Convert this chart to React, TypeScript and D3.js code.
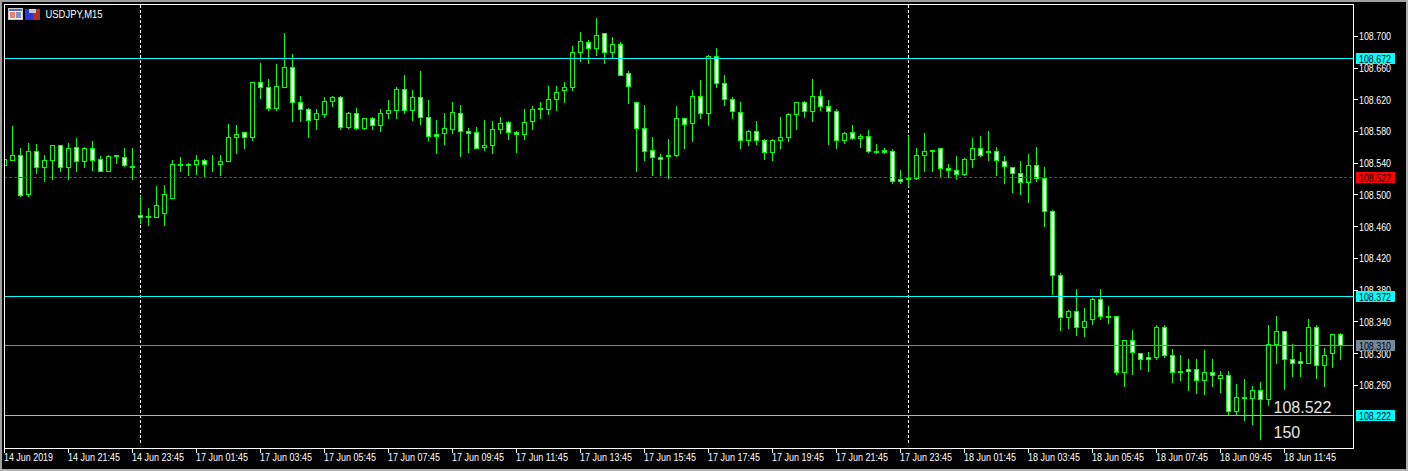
import React, { useEffect, useRef } from 'react';
import * as d3 from 'd3';

// all candle values are points above 108.000 (1 point = 0.001)
const basePrice = 108;
const highs = [
  545, 586, 559, 565, 564, 550, 562, 562, 565, 571, 560, 568, 548, 550, 550, 559, 559, 498, 483, 511, 512,
  543, 547, 540, 550, 545, 550, 550, 589, 588, 579, 642, 666, 646, 665, 704, 677, 624, 609, 608, 623, 624,
  624, 604, 609, 596, 598, 608, 619, 636, 650, 632, 655, 619, 594, 603, 617, 613, 584, 585, 594, 593, 598,
  593, 580, 608, 612, 617, 637, 637, 642, 687, 705, 695, 723, 704, 699, 692, 656, 617, 613, 573, 551, 570,
  612, 596, 632, 644, 676, 685, 651, 623, 617, 581, 593, 570, 570, 598, 603, 617, 618, 646, 632, 619, 608,
  579, 588, 576, 581, 564, 559, 557, 531, 574, 559, 577, 556, 559, 538, 548, 546, 571, 574, 580, 560, 548,
  535, 542, 551, 560, 535, 480, 401, 354, 381, 357, 369, 381, 359, 347, 317, 329, 300, 301, 335, 336, 305,
  298, 293, 292, 304, 293, 278, 278, 261, 268, 258, 263, 336, 347, 328, 311, 302, 343, 336, 307, 324, 325,
];
const lows = [
  537, 544, 498, 498, 527, 517, 520, 530, 520, 529, 534, 531, 529, 530, 540, 536, 520, 464, 462, 472, 462,
  496, 530, 525, 526, 522, 530, 524, 542, 552, 558, 569, 622, 606, 607, 635, 592, 592, 573, 583, 598, 611,
  582, 584, 583, 583, 583, 580, 596, 597, 603, 594, 589, 569, 552, 563, 578, 548, 554, 558, 556, 552, 577,
  570, 554, 570, 582, 596, 602, 607, 616, 632, 668, 666, 676, 666, 672, 651, 615, 529, 544, 524, 524, 521,
  549, 559, 567, 596, 587, 635, 613, 596, 559, 562, 563, 545, 544, 558, 568, 583, 598, 592, 606, 563, 559,
  565, 570, 560, 553, 552, 552, 514, 514, 511, 520, 529, 530, 522, 522, 519, 524, 535, 549, 543, 525, 515,
  503, 501, 490, 517, 460, 375, 329, 332, 323, 322, 337, 343, 338, 274, 258, 274, 280, 277, 293, 295, 264,
  266, 253, 250, 249, 258, 251, 222, 222, 216, 211, 192, 235, 287, 255, 271, 271, 288, 269, 258, 282, 293,
];
const opens = [
  537, 544, 550, 500, 555, 534, 543, 562, 534, 560, 542, 559, 545, 530, 550, 547, 536, 474, 473, 472, 477,
  496, 538, 538, 538, 543, 539, 538, 542, 573, 579, 573, 642, 636, 609, 636, 661, 617, 608, 595, 602, 618,
  623, 585, 603, 584, 596, 588, 603, 607, 633, 607, 623, 598, 576, 577, 583, 603, 580, 579, 560, 562, 583,
  591, 579, 576, 593, 609, 608, 620, 632, 636, 680, 692, 685, 704, 680, 690, 653, 617, 584, 556, 547, 550,
  550, 596, 590, 624, 603, 675, 641, 620, 604, 569, 580, 569, 554, 569, 573, 602, 617, 605, 624, 612, 605,
  569, 579, 571, 574, 555, 556, 555, 519, 521, 521, 550, 556, 559, 533, 531, 526, 545, 559, 555, 555, 542,
  535, 527, 516, 537, 521, 479, 399, 345, 353, 333, 343, 368, 347, 347, 276, 316, 300, 295, 295, 333, 298,
  278, 280, 280, 266, 276, 269, 273, 227, 245, 243, 254, 242, 312, 328, 292, 290, 288, 333, 285, 300, 324,
];
const closes = [
  545, 550, 499, 555, 534, 543, 562, 534, 559, 542, 559, 544, 530, 548, 548, 537, 534, 472, 471, 487, 501,
  538, 537, 537, 543, 538, 538, 542, 573, 576, 573, 642, 636, 609, 637, 661, 617, 608, 594, 603, 618, 623,
  585, 603, 584, 596, 588, 603, 607, 633, 607, 623, 598, 574, 574, 584, 604, 580, 578, 559, 562, 583, 590,
  579, 576, 591, 608, 608, 620, 629, 636, 680, 694, 685, 701, 680, 690, 651, 637, 584, 555, 547, 545, 548,
  596, 589, 624, 603, 675, 641, 620, 605, 569, 580, 569, 554, 569, 573, 602, 617, 605, 624, 612, 605, 569,
  577, 571, 574, 555, 554, 554, 517, 517, 519, 550, 555, 555, 533, 531, 526, 545, 559, 550, 554, 543, 536,
  527, 516, 537, 521, 479, 399, 345, 353, 333, 341, 368, 347, 345, 276, 316, 301, 293, 293, 333, 298, 276,
  276, 278, 266, 276, 272, 273, 227, 245, 243, 254, 242, 312, 328, 292, 288, 288, 333, 285, 298, 324, 310,
];

const priceTicks = [108.7, 108.66, 108.62, 108.58, 108.54, 108.5, 108.46, 108.42, 108.38, 108.34, 108.3, 108.26];
const timeLabels = [
  '14 Jun 2019', '14 Jun 21:45', '14 Jun 23:45', '17 Jun 01:45', '17 Jun 03:45', '17 Jun 05:45', '17 Jun 07:45',
  '17 Jun 09:45', '17 Jun 11:45', '17 Jun 13:45', '17 Jun 15:45', '17 Jun 17:45', '17 Jun 19:45', '17 Jun 21:45',
  '17 Jun 23:45', '18 Jun 01:45', '18 Jun 03:45', '18 Jun 05:45', '18 Jun 07:45', '18 Jun 09:45', '18 Jun 11:45',
];
const labelEvery = 8;
const separators = [17, 113];
const levelLines = [108.672, 108.372, 108.222];
const askLine = 108.522;
const bidLine = 108.31;

const W = 1408;
const H = 471;
const M = { top: 4, right: 1353, bottom: 448, left: 4 };
const GREEN = '#00ff00';
const CYAN = '#00ffff';
const AXIS_FONT = '"Liberation Sans", Arial, sans-serif';

export default function App() {
  const svgRef = useRef<SVGSVGElement | null>(null);

  useEffect(() => {
    if (!svgRef.current) return;
    const svg = d3.select(svgRef.current);
    svg.selectAll('*').remove();

    const x = d3.scaleLinear().domain([0, highs.length - 1]).range([4.5, 1340.5]);
    const y = d3.scaleLinear().domain([108.222, 108.672]).range([415.5, 58.5]);
    const py = (pts: number) => Math.round(y(basePrice + pts / 1000) - 0.5) + 0.5;

    svg.append('rect').attr('width', W).attr('height', H).attr('fill', '#000');
    // window frame
    svg.append('rect').attr('x', 0).attr('y', 0).attr('width', W).attr('height', 2).attr('fill', '#a0a0a0');
    svg.append('rect').attr('x', 0).attr('y', 0).attr('width', 2).attr('height', H).attr('fill', '#a0a0a0');
    svg.append('rect').attr('x', W - 2).attr('y', 0).attr('width', 2).attr('height', H).attr('fill', '#b0b0b0');
    svg.append('rect').attr('x', 0).attr('y', H - 2).attr('width', W).attr('height', 2).attr('fill', '#b0b0b0');

    const defs = svg.append('defs');
    defs.append('clipPath').attr('id', 'plot-clip').append('rect')
      .attr('x', M.left + 1).attr('y', M.top + 1)
      .attr('width', M.right - M.left - 1).attr('height', M.bottom - M.top - 1);

    const plot = svg.append('g').attr('clip-path', 'url(#plot-clip)').attr('shape-rendering', 'crispEdges');

    // period separators
    plot.selectAll('line.sep')
      .data(separators)
      .enter()
      .append('line')
      .attr('x1', d => x(d))
      .attr('x2', d => x(d))
      .attr('y1', M.top + 1)
      .attr('y2', M.bottom - 3)
      .attr('stroke', '#fff')
      .attr('stroke-dasharray', '3 2');

    // candles
    const candles = plot.selectAll('g.candle')
      .data(d3.range(highs.length))
      .enter()
      .append('g');
    candles.append('line')
      .attr('x1', i => x(i))
      .attr('x2', i => x(i))
      .attr('y1', i => py(highs[i]) - 0.5)
      .attr('y2', i => py(lows[i]) + 0.5)
      .attr('stroke', GREEN);
    candles.append('rect')
      .attr('x', i => x(i) - 2)
      .attr('width', 4)
      .attr('y', i => py(Math.max(opens[i], closes[i])))
      .attr('height', i => py(Math.min(opens[i], closes[i])) - py(Math.max(opens[i], closes[i])))
      .attr('fill', i => (closes[i] < opens[i] ? '#fff' : '#000'))
      .attr('stroke', GREEN);

    // level lines go over the candles
    plot.selectAll('line.level')
      .data(levelLines)
      .enter()
      .append('line')
      .attr('x1', M.left)
      .attr('x2', M.right)
      .attr('y1', d => y(d))
      .attr('y2', d => y(d))
      .attr('stroke', CYAN);
    plot.append('line')
      .attr('x1', M.left).attr('x2', M.right)
      .attr('y1', y(bidLine)).attr('y2', y(bidLine))
      .attr('stroke', '#778899');
    plot.append('line')
      .attr('x1', M.left).attr('x2', M.right)
      .attr('y1', y(askLine)).attr('y2', y(askLine))
      .attr('stroke', '#ff0000')
      .attr('stroke-dasharray', '3 2');

    // chart border
    svg.append('path')
      .attr('d', `M${M.left + 0.5},${M.bottom + 0.5}V${M.top + 0.5}H${M.right + 0.5}V${M.bottom + 0.5}H${M.left + 0.5}`)
      .attr('fill', 'none')
      .attr('stroke', '#fff')
      .attr('shape-rendering', 'crispEdges');

    // price axis
    const yAxis = svg.append('g');
    yAxis.selectAll('line')
      .data(priceTicks)
      .enter()
      .append('line')
      .attr('x1', M.right + 1)
      .attr('x2', M.right + 5)
      .attr('y1', d => Math.round(y(d) - 0.5) + 0.5)
      .attr('y2', d => Math.round(y(d) - 0.5) + 0.5)
      .attr('stroke', '#fff')
      .attr('shape-rendering', 'crispEdges');
    yAxis.selectAll('text')
      .data(priceTicks)
      .enter()
      .append('text')
      .attr('x', M.right + 6)
      .attr('y', d => y(d) + 4)
      .attr('fill', '#fff')
      .attr('font-family', AXIS_FONT)
      .attr('font-size', 10.5)
      .attr('textLength', 32)
      .attr('lengthAdjust', 'spacingAndGlyphs')
      .text(d => d.toFixed(3));

    // time axis
    const xAxis = svg.append('g');
    xAxis.selectAll('line')
      .data(timeLabels)
      .enter()
      .append('line')
      .attr('x1', (_, i) => x(i * labelEvery))
      .attr('x2', (_, i) => x(i * labelEvery))
      .attr('y1', M.bottom + 1)
      .attr('y2', M.bottom + 5)
      .attr('stroke', '#fff')
      .attr('shape-rendering', 'crispEdges');
    xAxis.selectAll('text')
      .data(timeLabels)
      .enter()
      .append('text')
      .attr('x', (_, i) => x(i * labelEvery) - 0.5)
      .attr('y', M.bottom + 13)
      .attr('fill', '#fff')
      .attr('font-family', AXIS_FONT)
      .attr('font-size', 10.5)
      .attr('textLength', d => (d.length === 11 ? 49 : 52))
      .attr('lengthAdjust', 'spacingAndGlyphs')
      .text(d => d);

    // price tags
    const tags = [
      ...levelLines.map(v => ({ v, fill: CYAN })),
      { v: askLine, fill: '#ff0000' },
      { v: bidLine, fill: '#778899' },
    ];
    const tag = svg.append('g').selectAll('g').data(tags).enter().append('g');
    tag.append('rect')
      .attr('x', M.right + 3)
      .attr('y', d => Math.round(y(d.v) - 0.5) - 5)
      .attr('width', 39)
      .attr('height', 11)
      .attr('fill', d => d.fill);
    tag.append('text')
      .attr('x', M.right + 6)
      .attr('y', d => y(d.v) + 4)
      .attr('fill', '#000')
      .attr('font-family', AXIS_FONT)
      .attr('font-size', 10.5)
      .attr('textLength', 32)
      .attr('lengthAdjust', 'spacingAndGlyphs')
      .text(d => d.v.toFixed(3));

    // title with the two little icons
    const icons = svg.append('g').attr('shape-rendering', 'crispEdges');
    icons.append('rect').attr('x', 8.5).attr('y', 8.5).attr('width', 14).attr('height', 11).attr('fill', '#f4f0f0').attr('stroke', '#c8c8d8');
    icons.append('rect').attr('x', 9).attr('y', 9).attr('width', 13).attr('height', 2).attr('fill', '#4f6fb0');
    icons.append('rect').attr('x', 10).attr('y', 12).attr('width', 5).attr('height', 6).attr('fill', '#f08070');
    icons.append('rect').attr('x', 16).attr('y', 12).attr('width', 5).attr('height', 6).attr('fill', '#8090d0');
    icons.append('rect').attr('x', 25).attr('y', 9).attr('width', 8).attr('height', 11).attr('fill', '#2a35d8');
    icons.append('rect').attr('x', 33).attr('y', 9).attr('width', 7).attr('height', 11).attr('fill', '#b03028');
    icons.append('rect').attr('x', 29).attr('y', 9).attr('width', 7).attr('height', 4).attr('fill', '#c8c8c8');

    svg.append('text')
      .attr('x', 45.5)
      .attr('y', 18)
      .attr('fill', '#fff')
      .attr('font-family', AXIS_FONT)
      .attr('font-size', 10.5)
      .attr('textLength', 57)
      .attr('lengthAdjust', 'spacingAndGlyphs')
      .text('USDJPY,M15');

    // big comment text bottom right
    svg.append('text')
      .attr('x', 1273.5)
      .attr('y', 413)
      .attr('fill', '#e6e6e6')
      .attr('font-family', AXIS_FONT)
      .attr('font-size', 16)
      .text('108.522');
    svg.append('text')
      .attr('x', 1273.5)
      .attr('y', 438)
      .attr('fill', '#e6e6e6')
      .attr('font-family', AXIS_FONT)
      .attr('font-size', 16)
      .text('150');
  }, []);

  return <svg ref={svgRef} width={W} height={H} style={{ position: 'absolute', left: 0, top: 0, display: 'block' }} />;
}
